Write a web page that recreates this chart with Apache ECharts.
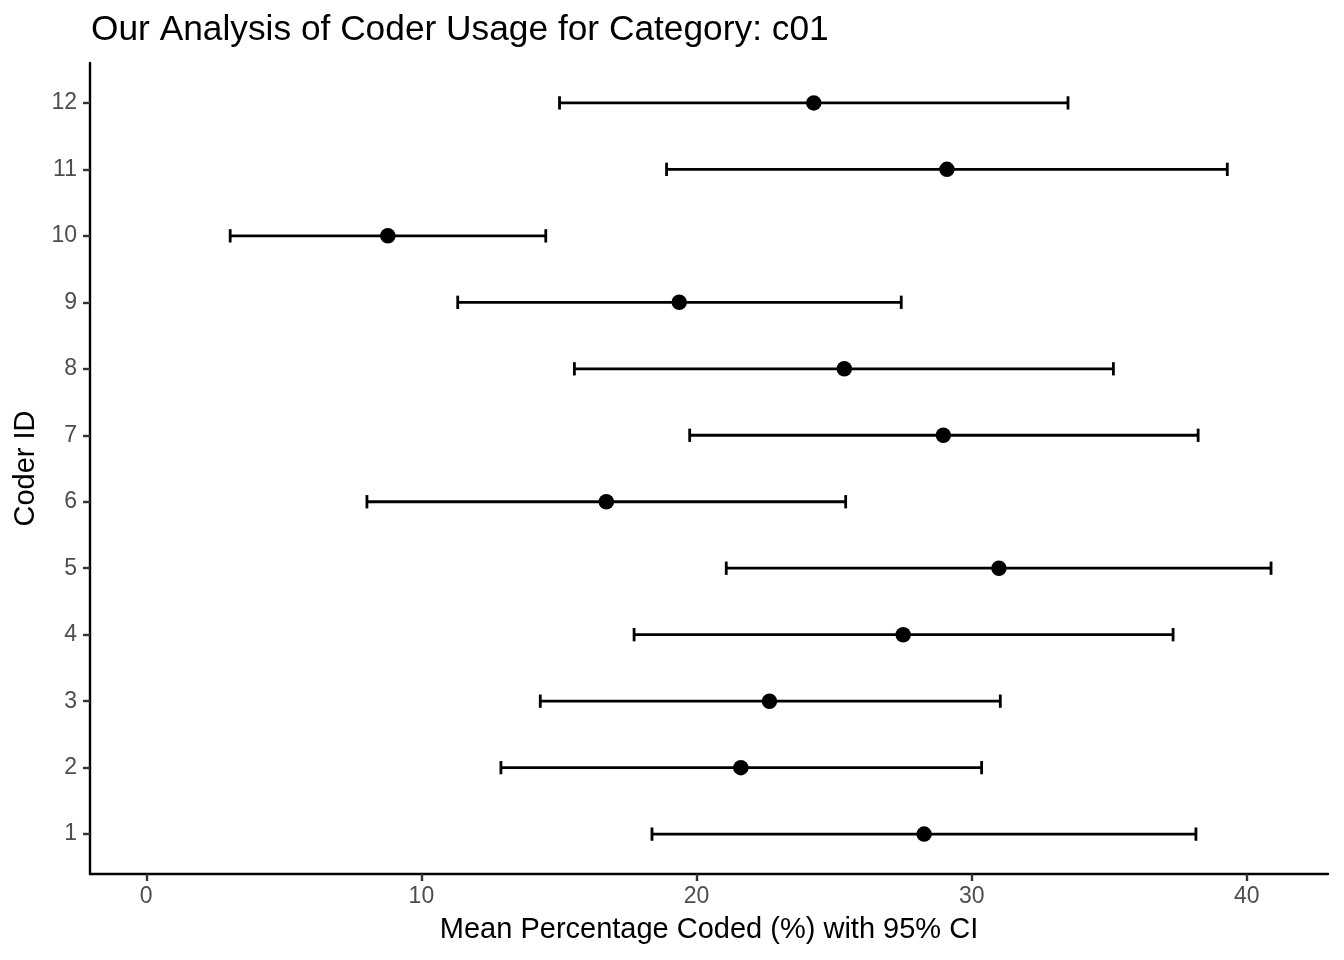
<!DOCTYPE html>
<html>
<head>
<meta charset="utf-8">
<script src="https://cdn.jsdelivr.net/npm/echarts@6/dist/echarts.min.js"></script>
<style>
html,body{margin:0;padding:0;background:#fff;}
#chart{width:1344px;height:960px;}
</style>
</head>
<body>
<div id="chart"></div>
<script>
const coderIds = [1, 2, 3, 4, 5, 6, 7, 8, 9, 10, 11, 12];
const meanPct  = [28.27, 21.61, 22.65, 27.51, 30.99, 16.72, 28.97, 25.37, 19.37, 8.78, 29.10, 24.26];
const ciLow    = [18.38, 12.89, 14.32, 17.73, 21.08, 8.02, 19.75, 15.56, 11.32, 3.05, 18.91, 15.02];
const ciHigh   = [38.15, 30.36, 31.04, 37.32, 40.88, 25.42, 38.23, 35.15, 27.44, 14.52, 39.29, 33.50];
const xTicks = [0, 10, 20, 30, 40];
const titleText = 'Our Analysis of Coder Usage for Category: c01';
const xTitle = 'Mean Percentage Coded (%) with 95% CI';
const yTitle = 'Coder ID';

const FONT = '"Liberation Sans", Arial, Helvetica, sans-serif';
const capHalf = 0.1;

const errData = coderIds.map((id, i) => [id, ciLow[i], ciHigh[i]]);
const ptData = coderIds.map((id, i) => [meanPct[i], id]);

const chart = echarts.init(document.getElementById('chart'), null, {renderer: 'canvas'});
chart.setOption({
  animation: false,
  backgroundColor: '#ffffff',
  title: {
    text: titleText,
    left: 86,
    top: 8,
    textStyle: {fontFamily: FONT, fontSize: 35.3, fontWeight: 'normal', color: '#000'}
  },
  grid: {left: 90, right: 16, top: 63, bottom: 86, containLabel: false},
  xAxis: {
    type: 'value',
    min: -2.045,
    max: 42.95,
    name: xTitle,
    nameLocation: 'middle',
    nameGap: 41,
    nameTextStyle: {fontFamily: FONT, fontSize: 29, color: '#000'},
    axisLine: {show: true, onZero: false, lineStyle: {color: '#000', width: 2.4}},
    axisTick: {show: true, length: 7, customValues: xTicks, lineStyle: {color: '#333', width: 2.4}},
    axisLabel: {show: true, margin: 11, customValues: xTicks, fontFamily: FONT, fontSize: 23, color: '#4D4D4D'},
    splitLine: {show: false}
  },
  yAxis: {
    type: 'value',
    min: 0.4,
    max: 12.6,
    name: yTitle,
    nameLocation: 'middle',
    nameRotate: 90,
    nameGap: 49,
    nameTextStyle: {fontFamily: FONT, fontSize: 29, color: '#000'},
    axisLine: {show: true, onZero: false, lineStyle: {color: '#000', width: 2.4}},
    axisTick: {show: true, length: 7, customValues: coderIds, lineStyle: {color: '#333', width: 2.4}},
    axisLabel: {show: true, margin: 13, customValues: coderIds, fontFamily: FONT, fontSize: 23, color: '#4D4D4D'},
    splitLine: {show: false}
  },
  series: [
    {
      type: 'custom',
      data: errData,
      encode: {x: [1, 2], y: 0},
      renderItem: function (params, api) {
        const y = api.value(0), lo = api.value(1), hi = api.value(2);
        const pLo = api.coord([lo, y]);
        const pHi = api.coord([hi, y]);
        const capTop = api.coord([lo, y + capHalf])[1];
        const capBot = api.coord([lo, y - capHalf])[1];
        const style = {stroke: '#000', lineWidth: 2.8, fill: null};
        return {
          type: 'group',
          children: [
            {type: 'line', shape: {x1: pLo[0], y1: pLo[1], x2: pHi[0], y2: pHi[1]}, style: style},
            {type: 'line', shape: {x1: pLo[0], y1: capTop, x2: pLo[0], y2: capBot}, style: style},
            {type: 'line', shape: {x1: pHi[0], y1: capTop, x2: pHi[0], y2: capBot}, style: style}
          ]
        };
      },
      z: 2
    },
    {
      type: 'scatter',
      data: ptData,
      symbol: 'circle',
      symbolSize: 15.5,
      itemStyle: {color: '#000', opacity: 1},
      emphasis: {disabled: true},
      z: 3
    }
  ]
});
</script>
</body>
</html>
